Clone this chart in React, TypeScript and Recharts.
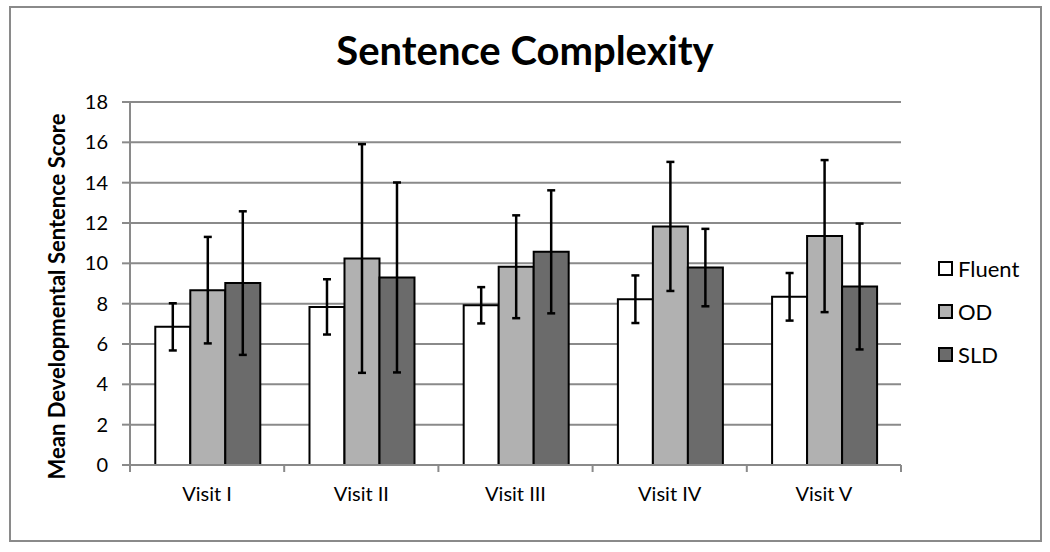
import { BarChart, Bar, XAxis, YAxis, CartesianGrid, ErrorBar } from 'recharts';

const visits = ['Visit I', 'Visit II', 'Visit III', 'Visit IV', 'Visit V'];

const fluent = [6.85, 7.84, 7.92, 8.22, 8.34];
const fluentErr = [1.17, 1.37, 0.9, 1.18, 1.18];

const od = [8.67, 10.24, 9.83, 11.83, 11.35];
const odErr = [2.64, 5.67, 2.55, 3.2, 3.77];

const sld = [9.02, 9.3, 10.57, 9.79, 8.85];
const sldErr = [3.56, 4.71, 3.05, 1.92, 3.12];

const yTicks = [0, 2, 4, 6, 8, 10, 12, 14, 16, 18];

const data = visits.map((name, i) => ({
    name,
    fluent: fluent[i],
    fluentErr: fluentErr[i],
    od: od[i],
    odErr: odErr[i],
    sld: sld[i],
    sldErr: sldErr[i],
}));

const series = [
    { key: 'fluent', label: 'Fluent', fill: '#ffffff' },
    { key: 'od', label: 'OD', fill: '#b1b1b1' },
    { key: 'sld', label: 'SLD', fill: '#6b6b6b' },
];

const font = 'Lato, "Open Sans", sans-serif';
const gridColor = '#8a8a8a';

function CategoryTick(props: any) {
    const { x, y, payload, index } = props;
    const half = 154.2 / 2;
    return (
        <g>
            <line x1={x - half} y1={y - 8} x2={x - half} y2={y - 1} stroke={gridColor} strokeWidth={2} />
            {index === visits.length - 1 && (
                <line x1={x + half} y1={y - 8} x2={x + half} y2={y - 1} stroke={gridColor} strokeWidth={2} />
            )}
            <text x={x} y={y + 28} textAnchor="middle" fontSize={20} fontFamily={font} fill="#000">
                {payload.value}
            </text>
        </g>
    );
}

function LegendBox() {
    return (
        <div style={{ position: 'absolute', left: 938, top: 247, fontFamily: font, fontSize: 22 }}>
            {series.map((s) => (
                <div key={s.key} style={{ display: 'flex', alignItems: 'center', height: 43 }}>
                    <span style={{
                        display: 'inline-block', width: 11, height: 11,
                        border: '2px solid #000', background: s.fill, marginRight: 5,
                    }} />
                    <span>{s.label}</span>
                </div>
            ))}
        </div>
    );
}

export default function App() {
    return (
        <div style={{ position: 'relative', width: 1050, height: 552, background: '#fff' }}>
            <style>{'body{margin:0}'}</style>
            <div style={{
                position: 'absolute', left: 9, top: 6, width: 1033, height: 536,
                border: '2px solid #8a8a8a', boxSizing: 'border-box',
            }} />
            <div style={{
                position: 'absolute', left: 0, top: 26, width: 1050, textAlign: 'center',
                fontFamily: font, fontWeight: 700, fontSize: 40,
            }}>
                Sentence Complexity
            </div>
            <div style={{ position: 'absolute', left: 0, top: 0 }}>
                <BarChart
                    width={1050}
                    height={552}
                    data={data}
                    margin={{ top: 102, right: 149, bottom: 47, left: 100 }}
                    barGap={0}
                    barCategoryGap="16.4%"
                >
                    <CartesianGrid vertical={false} stroke={gridColor} strokeWidth={2} />
                    <XAxis
                        dataKey="name"
                        height={40}
                        axisLine={{ stroke: gridColor, strokeWidth: 2 }}
                        tickLine={false}
                        tick={<CategoryTick />}
                        interval={0}
                    />
                    <YAxis
                        width={30}
                        domain={[0, 18]}
                        ticks={yTicks}
                        interval={0}
                        axisLine={{ stroke: gridColor, strokeWidth: 2 }}
                        tickLine={{ stroke: gridColor, strokeWidth: 2 }}
                        tickSize={8}
                        tickMargin={14}
                        tick={{ fontSize: 20, fontFamily: font, fill: '#000' }}
                        label={{
                            content: (p: any) => {
                                const vb = p.viewBox;
                                const cx = vb.x - 44;
                                const cy = vb.y + vb.height / 2 + 13;
                                return (
                                    <text
                                        x={cx}
                                        y={cy}
                                        transform={`rotate(-90 ${cx} ${cy})`}
                                        textAnchor="middle"
                                        dominantBaseline="central"
                                        fontSize={22}
                                        fontWeight={700}
                                        fontFamily={font}
                                        fill="#000"
                                    >
                                        Mean Developmental Sentence Score
                                    </text>
                                );
                            },
                        }}
                    />
                    {series.map((s) => (
                        <Bar
                            key={s.key}
                            dataKey={s.key}
                            name={s.label}
                            fill={s.fill}
                            stroke="#000"
                            strokeWidth={2}
                            isAnimationActive={false}
                        >
                            <ErrorBar dataKey={`${s.key}Err`} width={4} stroke="#000" strokeWidth={2.5} />
                        </Bar>
                    ))}
                </BarChart>
            </div>
            <LegendBox />
        </div>
    );
}
